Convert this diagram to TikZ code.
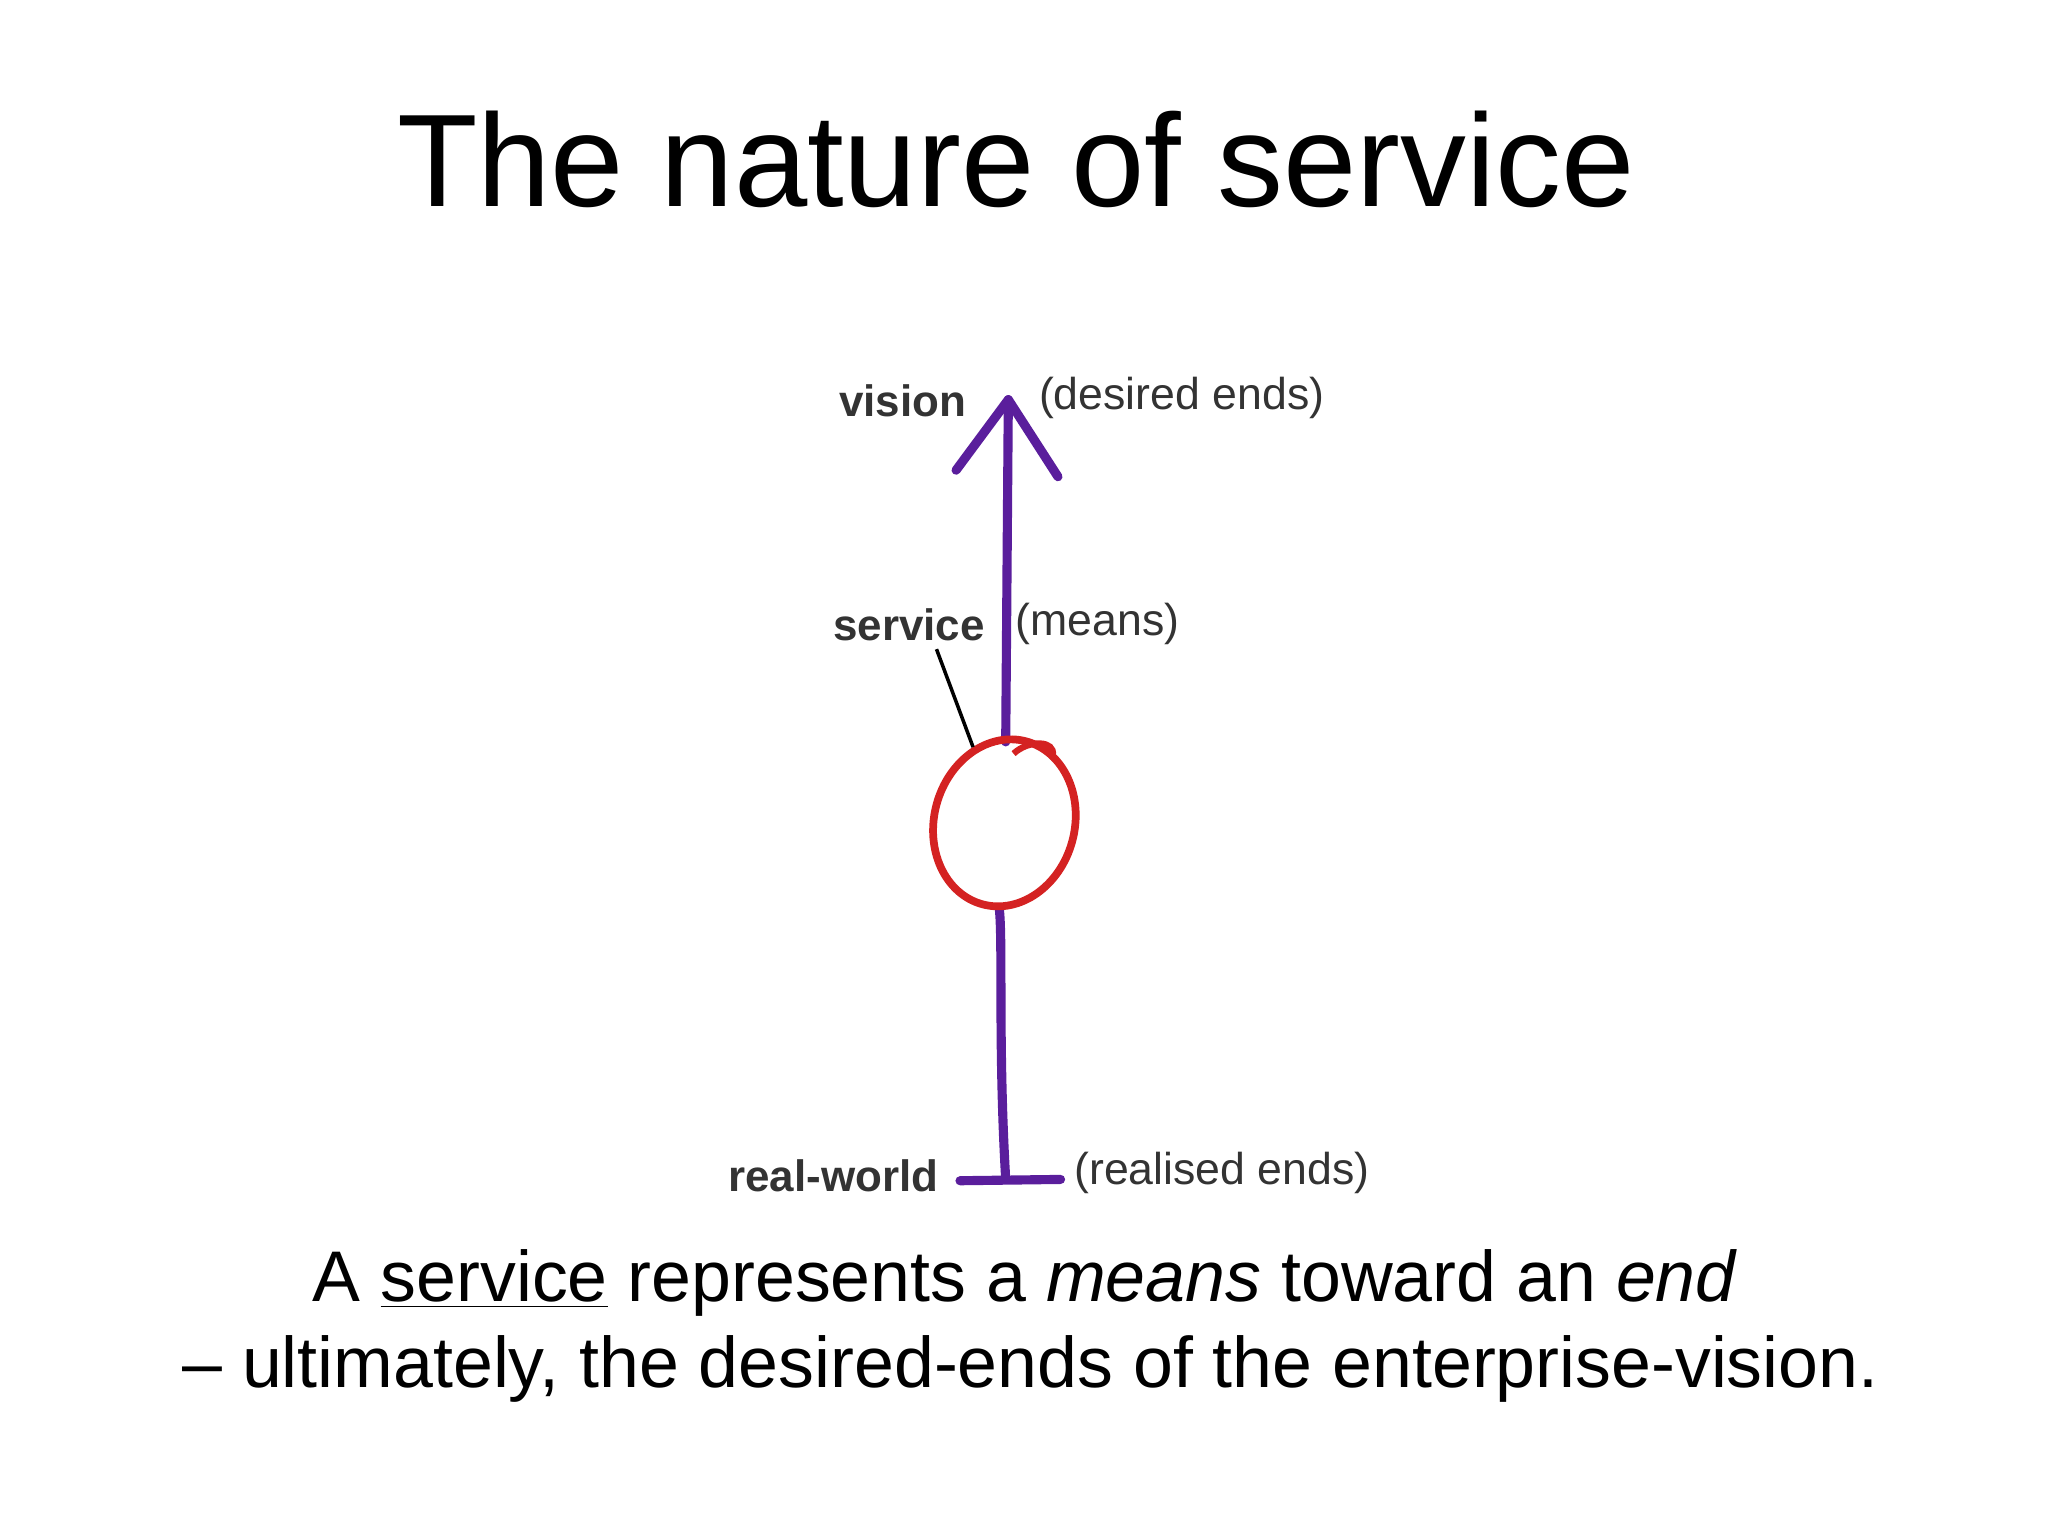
\documentclass[tikz,border=0pt]{standalone}
\usepackage{fontspec}
\usetikzlibrary{shapes.geometric}
\setmainfont{Liberation Sans}
\begin{document}
\begin{tikzpicture}[x=0.013061cm,y=-0.013061cm,
  purp/.style={draw=purpleline,line width=2.6pt,line cap=round,line join=round},
  lab/.style={font=\fontsize{12.7pt}{14pt}\selectfont,text=black!80,inner sep=0},
  blab/.style={lab,font=\fontsize{12.5pt}{14pt}\selectfont\bfseries},
  body/.style={font=\fontsize{20.4pt}{24pt}\selectfont,inner sep=0}]
\definecolor{purpleline}{HTML}{5A1E9C}
\definecolor{redline}{HTML}{D42222}
\useasboundingbox (0,0) rectangle (1568,1176);
\node[font=\fontsize{37.5pt}{44pt}\selectfont,inner sep=0] (title) at (778,122) {The nature of service};
% arrow
\coordinate (bot) at (770,903);
\coordinate (top) at (772,306);
\draw[purp] (bot) .. controls (764,800) and (768,720) .. (765,695);
\draw[purp] (770,568) -- (top);
\coordinate (hl) at (732,360);
\coordinate (hr) at (810,365);
\draw[purp] (hl) -- (top) -- (hr);
\coordinate (bl) at (735,904);
\coordinate (br) at (812,903);
\draw[purp] (bl) -- (br);
% circle
\node[draw=redline,line width=2.2pt,ellipse,minimum width=40pt,minimum height=48pt,rotate=-15,inner sep=0] (c) at (769,630) {};
\draw[redline,line width=1.8pt] (776,577) .. controls (788,566) and (808,567) .. (806,578);
% labels
\node[blab] (vision) at (691,307) {vision};
\node[lab,anchor=west] (desired) at (795,305) {(desired ends)};
\node[blab] (service) at (696,478) {service};
\node[lab,anchor=west] (means) at (777,478) {(means)};
\node[blab,anchor=east] (real) at (719,900) {real-world};
\node[lab,anchor=west] (realised) at (822,898) {(realised ends)};
\coordinate (pt) at (745,572);
\draw[black,line width=1pt] (717,497) -- (pt);
% body text
\node[body] (l1) at (785,982) {A \underline{service} represents a \textit{means} toward an \textit{end}};
\node[body] (l2) at (789,1048) {– ultimately, the desired-ends of the enterprise-vision.};
\end{tikzpicture}
\end{document}
